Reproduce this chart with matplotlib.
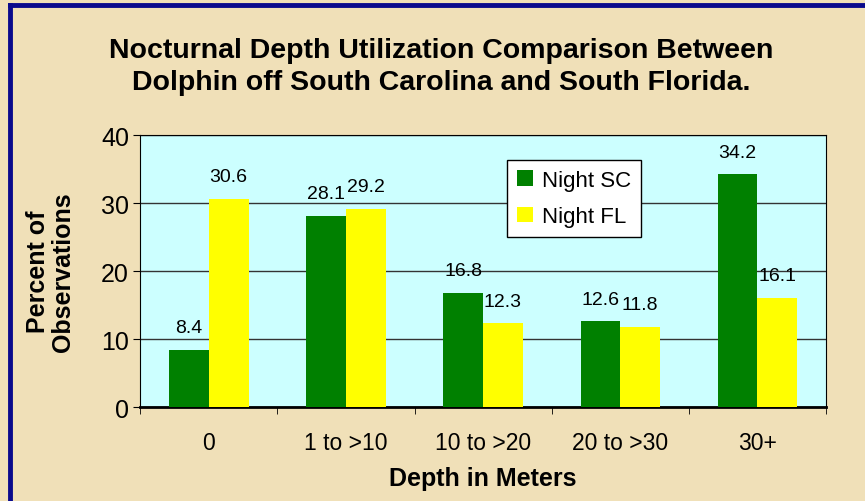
import numpy as np
import matplotlib.pyplot as plt
from matplotlib.lines import Line2D

plt.rcParams['font.family'] = ['Liberation Sans', 'DejaVu Sans']

# data
depths = ['0', '1 to >10', '10 to >20', '20 to >30', '30+']
night_sc = [8.4, 28.1, 16.8, 12.6, 34.2]
night_fl = [30.6, 29.2, 12.3, 11.8, 16.1]

fig = plt.figure(figsize=(8.65, 5.02), dpi=100)
fig.patch.set_facecolor('#F0E0B8')

# navy border on top and left
fig.add_artist(Line2D([0.012, 1.0], [0.989, 0.989], color='#0A0A8C', lw=3.5,
                      transform=fig.transFigure))
fig.add_artist(Line2D([0.012, 0.012], [0.0, 0.989], color='#0A0A8C', lw=3.5,
                      transform=fig.transFigure))

ax = fig.add_axes([0.162, 0.187, 0.793, 0.542])
ax.set_facecolor('#CCFFFF')

x = np.arange(len(depths))
w = 0.29
b1 = ax.bar(x - w/2, night_sc, w, color='#008000', label='Night SC', zorder=3)
b2 = ax.bar(x + w/2, night_fl, w, color='#FFFF00', label='Night FL', zorder=3)

for bars, vals in ((b1, night_sc), (b2, night_fl)):
    for r, v in zip(bars, vals):
        ax.annotate(str(v), (r.get_x() + r.get_width()/2, v), xytext=(0, 10),
                    textcoords='offset points', ha='center', va='bottom',
                    fontsize=14, zorder=4)

ax.set_xlim(-0.5, 4.5)
ax.set_ylim(0, 40)
ax.set_yticks([0, 10, 20, 30, 40])
ax.yaxis.grid(True, color='#333333', lw=1, zorder=1)
ax.set_xticks(x)
ax.set_xticklabels(depths, fontsize=16.5)
ax.tick_params(axis='x', length=0, pad=17)
ax.set_xticks(np.arange(-0.5, 5.0, 1.0), minor=True)
ax.tick_params(axis='x', which='minor', length=5, direction='out')
ax.tick_params(axis='y', labelsize=18, length=5, direction='out', pad=3)
for s in ax.spines.values():
    s.set_color('black')
ax.spines['bottom'].set_linewidth(2)

ax.set_xlabel('Depth in Meters', fontsize=18, fontweight='bold', va='top')
ax.xaxis.set_label_coords(0.499, -0.215)
ax.set_ylabel('Percent of\nObservations', fontsize=18, fontweight='bold',
              linespacing=1.05)
ax.yaxis.set_label_coords(-0.095, 0.5)

leg = ax.legend(loc='upper left', bbox_to_anchor=(0.535, 0.91), fontsize=16,
                fancybox=False, edgecolor='black', framealpha=1,
                handlelength=0.7, handleheight=0.7, borderpad=0.45,
                labelspacing=0.7, handletextpad=0.4, borderaxespad=0)
leg.get_frame().set_linewidth(1)

fig.text(0.51, 0.867, 'Nocturnal Depth Utilization Comparison Between\n'
         'Dolphin off South Carolina and South Florida.',
         ha='center', va='center', fontsize=20.5, fontweight='bold',
         linespacing=1.3)

fig.savefig('out.png', dpi=100, facecolor=fig.get_facecolor())
